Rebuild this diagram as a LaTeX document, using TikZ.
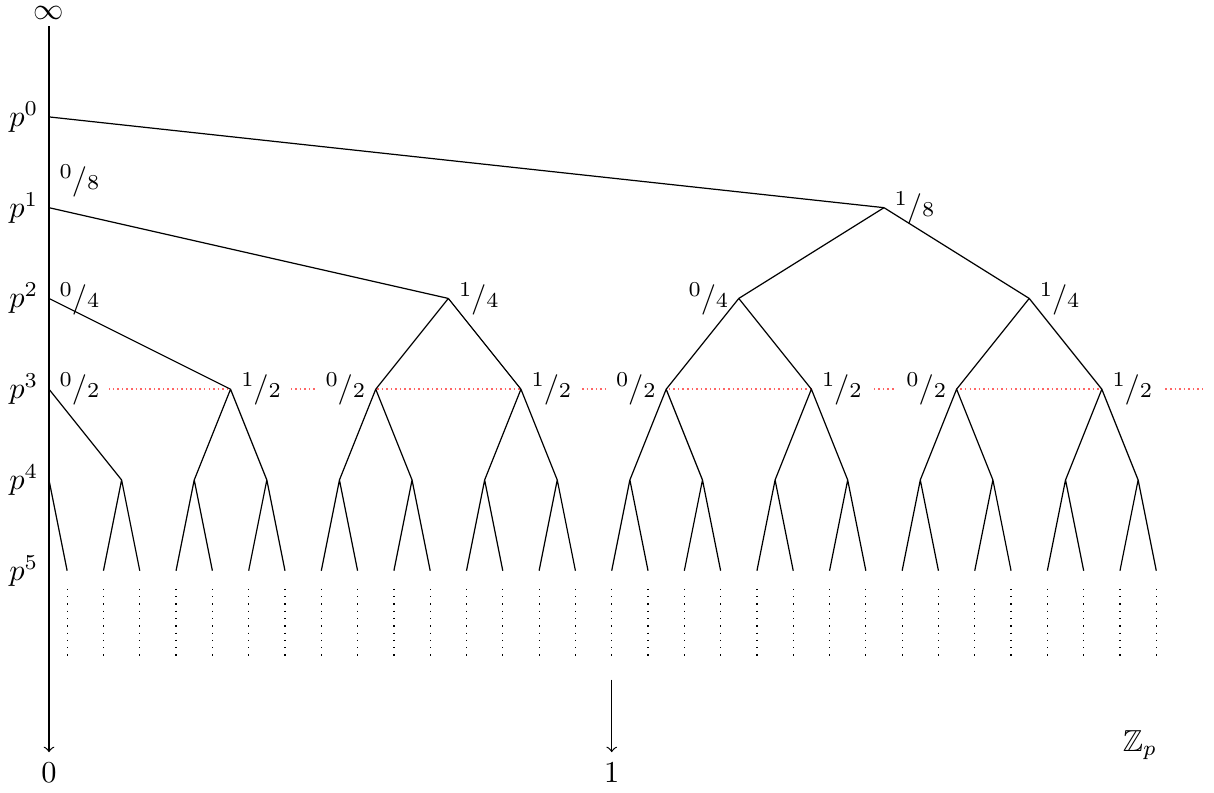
\documentclass[tikz,border=0pt]{standalone}
\usepackage{amsmath,amssymb}
\newcommand{\fr}[2]{\raisebox{3.6pt}{\scriptsize#1}/{\scriptsize#2}}

\begin{document}
\begin{tikzpicture}[x=0.42cm,y=0.42cm,
    frac/.style={fill=white},
    leafdots/.style={dotted}]
    \useasboundingbox (-1.35,3.22) rectangle (32.09,-18.62);
    % levels p^0 ... p^5 along the axis
    \foreach \k in {0,...,5} {
        \coordinate (a\k) at (0,-2.5*\k);
        \node[anchor=east] (p\k) at (a\k) {$p^{\k}$};
    }
    \node[anchor=south,inner sep=2pt] (inf) at (0,2.5) {$\infty$};
    \node[anchor=north] (zero) at (0,-17.5) {$0$};
    \coordinate (onetop) at (15.5,-15.5);
    \node[anchor=north] (one) at (15.5,-17.5) {$1$};
    \node (zp) at (30.05,-17.3) {$\mathbb{Z}_p$};
    % tree points
    \foreach \i in {0,...,30} {
        \coordinate (l\i) at (\i+0.5,-12.5);
        \coordinate (d\i) at (\i+0.5,-13);
        \coordinate (e\i) at (\i+0.5,-15);
    }
    \foreach \j in {1,...,15} \coordinate (n4-\j) at (2*\j,-10);
    \foreach \x/\n in {5/1,9/2,13/3,17/4,21/5,25/6,29/7} \coordinate (n3-\n) at (\x,-7.5);
    \foreach \x/\n in {11/1,19/2,27/3} \coordinate (n2-\n) at (\x,-5);
    \coordinate (n1-1) at (23,-2.5);
    % red line at p^3
    \coordinate (redend) at (31.8,-7.5);
    \draw[red!60,densely dotted,line width=0.5pt] (a3) -- (redend);
    % labels
    \node[frac,anchor=west] (f3-0) at (a3) {\fr{0}{2}};
    \foreach \n in {1,3,5,7} \node[frac,anchor=west] (f3-\n) at (n3-\n) {\fr{1}{2}};
    \foreach \n in {2,4,6} \node[frac,anchor=east] (f3-\n) at (n3-\n) {\fr{0}{2}};
    \node[frac,anchor=west] (f2-0) at (a2) {\fr{0}{4}};
    \node[frac,anchor=west] (f2-1) at (n2-1) {\fr{1}{4}};
    \node[frac,anchor=east] (f2-2) at (n2-2) {\fr{0}{4}};
    \node[frac,anchor=west] (f2-3) at (n2-3) {\fr{1}{4}};
    \node[frac,anchor=south west] (f1-0) at (a1) {\fr{0}{8}};
    \node[frac,anchor=west] (f1-1) at (n1-1) {\fr{1}{8}};
    % edges
    \draw (a0) -- (n1-1);
    \draw (a1) -- (n2-1) (n1-1) -- (n2-2) (n1-1) -- (n2-3);
    \draw (a2) -- (n3-1);
    \foreach \n/\a/\b in {1/2/3,2/4/5,3/6/7} \draw (n2-\n) -- (n3-\a) (n2-\n) -- (n3-\b);
    \draw (a3) -- (n4-1);
    \foreach \n/\a/\b in {1/2/3,2/4/5,3/6/7,4/8/9,5/10/11,6/12/13,7/14/15}
        \draw (n3-\n) -- (n4-\a) (n3-\n) -- (n4-\b);
    \draw (a4) -- (l0);
    \foreach \j [evaluate=\j as \a using int(2*\j-1), evaluate=\j as \b using int(2*\j)] in {1,...,15}
        \draw (n4-\j) -- (l\a) (n4-\j) -- (l\b);
    \foreach \i in {0,...,30} \draw[leafdots] (d\i) -- (e\i);
    % axis and arrow to 1
    \draw[->] (inf) -- (zero);
    \draw[->] (onetop) -- (one);
\end{tikzpicture}
\end{document}
